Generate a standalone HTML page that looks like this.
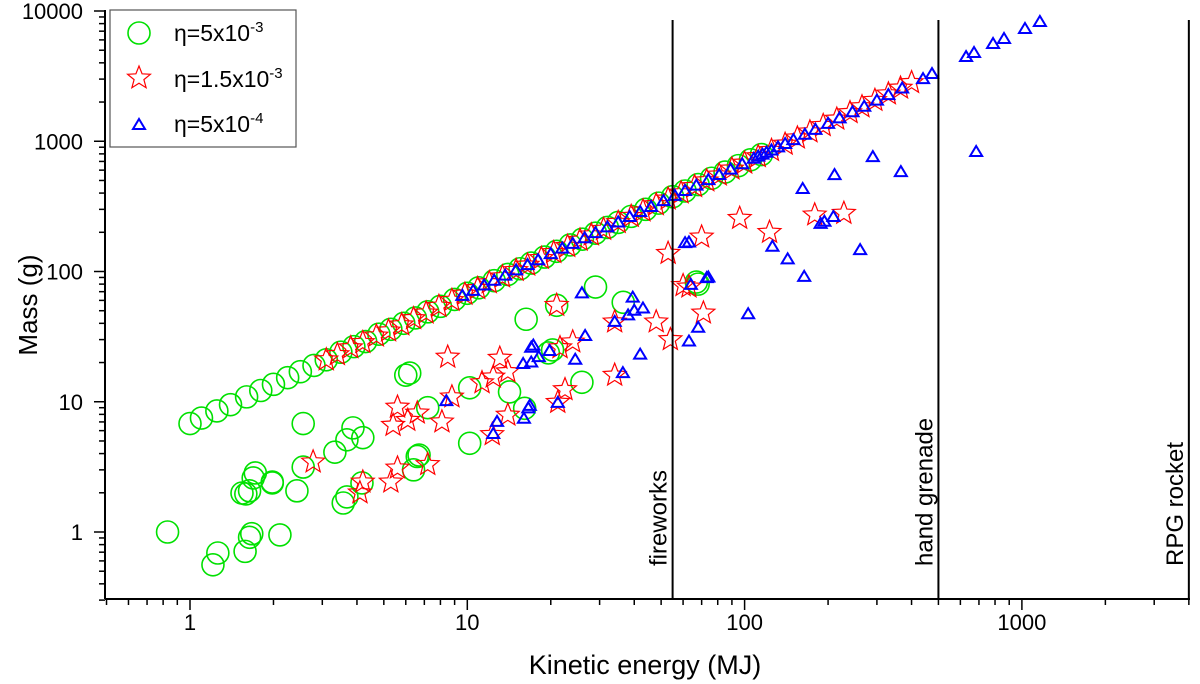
<!DOCTYPE html>
<html><head><meta charset="utf-8"><style>
html,body{margin:0;padding:0;background:#fff;}
svg{display:block;font-family:"Liberation Sans",Arial,sans-serif;}
</style></head><body>
<svg id="chart" width="1200" height="684" viewBox="0 0 1200 684"></svg>
<script>
// ---- data ----
const greenLineE = [1.0,1.1,1.25,1.4,1.6,1.8,2.0,2.25,2.5,2.8,3.1,3.5,3.9,4.3,4.8,5.3,5.9,6.5,7.2,8,9,10,11,12.5,14,15.5,17,19,21,23.5,26,29,32,35,39,44,49,55,61,68,76,85,95,105,115];
const greenLineM = [6.8,7.5,8.5,9.5,10.9,12.2,13.6,15.3,17,19,21,24,26.5,29,33,36,40,44,49,54,61,68,75,85,95,105,116,129,143,160,177,197,218,238,265,300,335,375,415,465,520,580,650,720,790];
const greenOutE = [0.83,1.26,1.21,1.58,1.64,1.67,2.11,1.59,1.69,1.64,1.98,2.43,2.56,2.56,3.57,6.2,6.0,3.87,4.2,3.68,3.33,7.2,10.2,10.2,6.6,6.4,1.72,1.98,1.54,4.17,3.68,29,36.5,21,16.3,14.2,19.6,20.3,16.1,25.9,6.7,67,68];
const greenOutM = [1.0,0.69,0.56,0.71,0.91,0.97,0.95,1.96,2.6,2.07,2.38,2.07,6.8,3.15,1.67,16.6,16,6.3,5.3,5.1,4.1,9.0,12.8,4.8,3.8,3.0,2.84,2.42,1.99,2.38,1.86,76,58,55,43,11.9,23.7,25,8.9,14.1,3.9,83,80];
const redLineE = [3.1,3.4,3.8,4.2,4.7,5.2,5.8,6.4,7.1,7.9,8.8,9.8,10.9,12,13.4,15,16.5,18.5,20.5,23,25.5,28,31,35,39,43,48,53,59,66,73,81,90,100,112,125,140,155,172,192,215,240,265,295,330,365,400];
const redLineM = [21,23,26,28.5,32,35,39,43.5,48,54,60,67,74,82,91,102,112,126,140,156,174,191,211,238,265,292,326,360,401,449,497,551,612,680,762,850,950,1060,1180,1320,1480,1660,1840,2060,2310,2560,2820];
const redOutE = [8.5,5.6,6.6,5.4,6.1,8.1,8.8,2.78,5.6,7.2,5.3,4.2,4.1,13.1,12.4,11.3,14,14,12.3,21.6,24,21,22.5,21.2,34,34,48,54,63,53,70,96,71,123,179,60,228];
const redOutM = [22,9.1,8.2,6.6,7.2,7.0,10.9,3.45,3.1,3.3,2.42,2.42,2.0,21.6,15.5,14,17,7.9,5.6,26,28.8,55,12.4,9.9,16,41,41,30,76,138,184,256,48,200,272,78,280];
const blueLineE = [9.6,10.5,11.5,12.5,13.7,15,16.5,18,20,22,24,26.5,29,32,35,38.5,42,46,51,56,61,67,74,81,89,98,108,112,116,120,125,132,140,150,165,180,200,220,245,270,300,330,370,440,474];
const blueLineM = [65,71,78,85,93,102,112,122,136,150,163,180,197,218,238,262,286,313,347,381,415,456,503,551,605,666,734,762,789,816,850,898,952,1020,1122,1224,1360,1500,1670,1840,2050,2260,2540,3000,3280];
const blueOutE = [25.9,39.5,43,38,40,34,26.6,24.5,17.3,17,19.8,18.1,17,15.9,42,36.4,8.4,16.8,16.6,21.2,16,12.8,12.4,68,63,64,73,74,61,63,103,126,143,164,162,211,290,366,188,194,209,261,684,629,672,787,862,1026,1161];
const blueOutM = [68,63,52,46,50,41,32,21,27,26,24.5,22,20,19.5,23,16.6,10.1,9.3,8.9,9.8,7.4,7.0,5.65,37,29,79,89,90,165,167,47,155,124,91,430,550,756,580,232,241,262,146,827,4430,4760,5580,6100,7280,8240];
const xTickVals = [1,10,100,1000];
const xTickLabels = ["1","10","100","1000"];
const yTickVals = [1,10,100,1000,10000];
const yTickLabels = ["1","10","100","1000","10000"];
const refE = [55,500,4000];
const refLabels = ["fireworks","hand grenade","RPG rocket"];

// ---- scales ----
const X0=190, XD=277.3, Y0=532, YD=130.25;
const L=105, R=1190, T=10, B=599;
function sx(v){return X0+Math.log10(v)*XD;}
function sy(v){return Y0-Math.log10(v)*YD;}
const NS="http://www.w3.org/2000/svg";
const svg=document.getElementById('chart');
function mk(tag,attrs,parent){const e=document.createElementNS(NS,tag);for(const k in attrs)e.setAttribute(k,attrs[k]);(parent||svg).appendChild(e);return e;}

// axes
const axes=mk('g',{});


mk('line',{x1:L,y1:T,x2:L,y2:B,stroke:'#000','stroke-width':2},axes);
mk('line',{x1:L,y1:B,x2:R,y2:B,stroke:'#000','stroke-width':2},axes);
for(let d=-1;d<=3;d++){for(let m=1;m<=9;m++){const v=m*Math.pow(10,d);if(v<0.5-1e-9||v>4000+1e-6)continue;const x=sx(v);mk('line',{x1:x,y1:B,x2:x,y2:B+(m==1?11:6),stroke:'#000','stroke-width':1.5},axes);}}
xTickVals.forEach((v,i)=>{const t=mk('text',{x:sx(v),y:630,'text-anchor':'middle','font-size':22,fill:'#000'});t.textContent=xTickLabels[i];});
for(let d=-1;d<=4;d++){for(let m=1;m<=9;m++){const v=m*Math.pow(10,d);if(v<0.3-1e-9||v>10000+1e-6)continue;const y=sy(v);mk('line',{x1:L-(m==1?11:6),y1:y,x2:L,y2:y,stroke:'#000','stroke-width':1.5},axes);}}
yTickVals.forEach((v,i)=>{const t=mk('text',{x:83,y:sy(v)+8,'text-anchor':'end','font-size':22,fill:'#000'});t.textContent=yTickLabels[i];});
const xt=mk('text',{x:645,y:674,'text-anchor':'middle','font-size':27,fill:'#000'});xt.textContent='Kinetic energy (MJ)';


const yt=mk('text',{x:0,y:0,'text-anchor':'middle','font-size':26,fill:'#000',transform:'translate(37,305) rotate(-90)'});yt.textContent='Mass (g)';



// markers
function circ(x,y,g){mk('circle',{cx:x,cy:y,r:11,fill:'none',stroke:'#00e000','stroke-width':1.6},g);}
function star(x,y,g){let p=[];for(let i=0;i<10;i++){const r=i%2?5.2:12;const a=-Math.PI/2+i*Math.PI/5;p.push((x+r*Math.cos(a)).toFixed(1)+','+(y+r*Math.sin(a)).toFixed(1));}mk('polygon',{points:p.join(' '),fill:'none',stroke:'#ff0000','stroke-width':1.2},g);}
function tri(x,y,g){mk('polygon',{points:`${x},${y-6} ${x+6},${y+4} ${x-6},${y+4}`,fill:'none',stroke:'#0000ff','stroke-width':2},g);}
function series(name,Es,Ms,fn){const g=mk('g',{});Es.forEach((e,i)=>fn(sx(e),sy(Ms[i]),g));}
series('series-green-line',greenLineE,greenLineM,circ);
series('series-green-scatter',greenOutE,greenOutM,circ);
series('series-red-line',redLineE,redLineM,star);
series('series-red-scatter',redOutE,redOutM,star);
series('series-blue-line',blueLineE,blueLineM,tri);
series('series-blue-scatter',blueOutE,blueOutM,tri);

// reference lines
refE.forEach((e,i)=>{const x=sx(e);const g=mk('g',{});mk('line',{x1:x,y1:20,x2:x,y2:B,stroke:'#000','stroke-width':2},g);const t=mk('text',{x:0,y:0,'text-anchor':'start','font-size':24,fill:'#000',transform:`translate(${x-6},566) rotate(-90)`},g);t.textContent=refLabels[i];});

// legend
const lg=mk('g',{});


mk('rect',{x:110,y:10,width:186,height:137,fill:'#fff',stroke:'#555','stroke-width':1.2},lg);
circ(139,33,lg);star(139,78,lg);tri(139,125,lg);
const labs=[['5x10','-3',41],['1.5x10','-3',87],['5x10','-4',132]];
labs.forEach(l=>{const t=mk('text',{x:174,y:l[2],'font-size':23,fill:'#000'},lg);t.textContent='η='+l[0];const s=mk('tspan',{dy:-9,'font-size':15},t);s.textContent=l[1];});
</script>
</body></html>
